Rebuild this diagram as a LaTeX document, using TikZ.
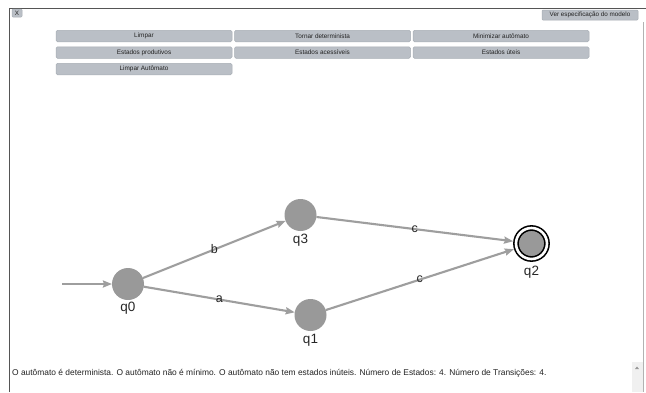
\documentclass[tikz,border=0pt]{standalone}
\usepackage{fontspec}
\setmainfont{Liberation Sans}
\usetikzlibrary{arrows.meta}
\definecolor{btnfill}{RGB}{186,191,198}
\definecolor{btnline}{RGB}{168,174,181}
\definecolor{statefill}{RGB}{153,153,153}
\definecolor{edgecol}{RGB}{158,158,158}
\definecolor{framecol}{RGB}{85,85,85}
\definecolor{txtcol}{RGB}{34,34,34}
\begin{document}
\begin{tikzpicture}[x=1pt,y=-1pt,
  btn/.style={draw=btnline,fill=btnfill,rounded corners=1.5pt,line width=0.5pt,
    minimum width=176pt,minimum height=11.5pt,inner sep=0pt,
    font=\fontsize{6.4}{7}\selectfont,text=txtcol},
  smallbtn/.style={draw=btnline,fill=btnfill,rounded corners=1pt,line width=0.5pt,
    inner sep=0pt,font=\fontsize{6.3}{7}\selectfont,text=txtcol},
  state/.style={circle,fill=statefill,minimum size=32pt,inner sep=0pt,outer sep=0pt},
  accepting/.style={circle,fill=statefill,draw=black,line width=1.6pt,
    double=white,double distance=2.6pt,minimum size=31pt,inner sep=0pt,outer sep=3pt},
  statename/.style={font=\fontsize{13.5}{15}\selectfont,text=black!85,inner sep=0pt},
  edgelabel/.style={font=\fontsize{12.5}{14}\selectfont,text=black!85,inner sep=0pt},
  trans/.style={draw=edgecol,line width=2.1pt,
    -{Stealth[length=9pt,width=7pt,inset=1pt,fill=edgecol]}}]

\useasboundingbox (0,0) rectangle (646,392);
\fill[white] (0,0) rectangle (646,392);

% page frame and scroll bar
\draw[framecol,line width=1pt] (9,392) -- (9,8.5) -- (646,8.5);
\draw[black!30,line width=1.6pt] (643.5,22) -- (643.5,392);
\fill[black!6] (632,362) rectangle (642.5,392);
\fill[black!40] (635,369) -- (639,369) -- (637,366.5) -- cycle;

% top bar buttons
\node[smallbtn,minimum width=10pt,minimum height=8pt] (close) at (17,13) {X};
\node[smallbtn,minimum width=96pt,minimum height=10pt] (spec) at (590,15) {Ver especificação do modelo};

% command buttons
\node[btn] (limpar) at (144,36) {Limpar};
\node[btn] (det) at (322.5,36) {Tornar determinista};
\node[btn] (min) at (501,36) {Minimizar autômato};
\node[btn] (prod) at (144,52.5) {Estados produtivos};
\node[btn] (acess) at (322.5,52.5) {Estados acessíveis};
\node[btn] (uteis) at (501,52.5) {Estados úteis};
\node[btn] (limparaut) at (144,69) {Limpar Autômato};

% automaton states
\node[state] (q0) at (128,284) {};
\node[state] (q3) at (300.5,215) {};
\node[state] (q1) at (310.5,315) {};
\node[accepting] (q2) at (531.5,243.5) {};

\node[statename] (lq0) at (128,308.5) {q0};
\node[statename] (lq3) at (300.5,240) {q3};
\node[statename] (lq1) at (310.5,340) {q1};
\node[statename] (lq2) at (531.5,272) {q2};

% transitions
\coordinate (start) at (62,284);
\draw[trans] (start) -- (q0);
\draw[trans] (q0) -- node[edgelabel] (lb) {b} (q3);
\draw[trans] (q0) -- node[edgelabel] (la) {a} (q1);
\draw[trans] (q3) -- node[edgelabel] (lc1) {c} (q2);
\draw[trans] (q1) -- node[edgelabel] (lc2) {c} (q2);

% status line
\node[anchor=west,inner sep=0pt,font=\fontsize{8.4}{10}\selectfont,text=txtcol] (status) at (12,373)
  {O autômato é determinista. O autômato não é mínimo. O autômato não tem estados inúteis. Número de Estados: 4. Número de Transições: 4.};
\end{tikzpicture}
\end{document}
